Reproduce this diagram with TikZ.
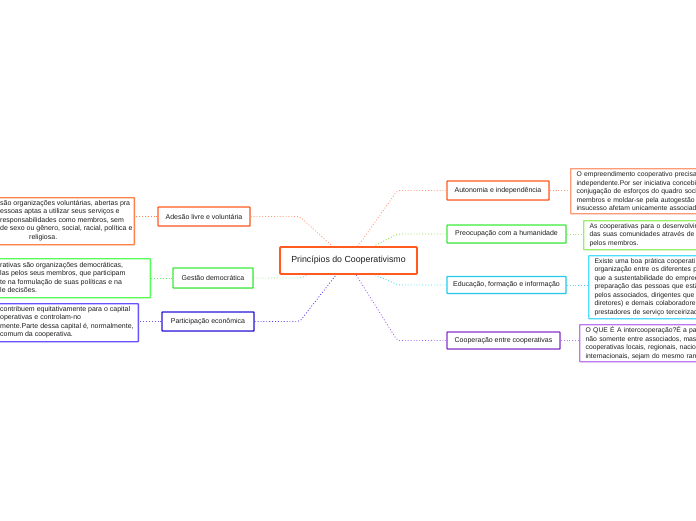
\documentclass[tikz,border=0pt]{standalone}
\usepackage{fontspec}
\setmainfont{Liberation Sans}
\usetikzlibrary{shadows,calc}
\definecolor{txt}{HTML}{1E1E1E}
\definecolor{orMain}{HTML}{FF5A1F}
\definecolor{orLight}{HTML}{FF9A74}
\definecolor{orDet}{HTML}{FF8048}
\definecolor{orConn}{HTML}{FF9A78}
\definecolor{grMain}{HTML}{3AEB3A}
\definecolor{grDet}{HTML}{55FF55}
\definecolor{grLight}{HTML}{99EE6A}
\definecolor{grConn}{HTML}{8FEE8F}
\definecolor{grConn2}{HTML}{88DD44}
\definecolor{cyMain}{HTML}{22CCEE}
\definecolor{cyDet}{HTML}{4FDDFF}
\definecolor{cyConn}{HTML}{44DDEE}
\definecolor{puMain}{HTML}{8833CC}
\definecolor{puDet}{HTML}{BB77EE}
\definecolor{puConn}{HTML}{AA66EE}
\definecolor{blMain}{HTML}{2A15DD}
\definecolor{blDet}{HTML}{6655FF}
\definecolor{blConn}{HTML}{5544EE}
\begin{document}
\begin{tikzpicture}[x=1pt,y=-1pt,
  shade/.style={drop shadow={shadow xshift=0.8pt,shadow yshift=-0.8pt,opacity=0.18}},
  cbox/.style={draw=orMain,line width=1.8pt,fill=white,rounded corners=1pt,inner sep=0pt,
    minimum width=137,minimum height=27,font=\fontsize{8.8}{10}\selectfont,text=txt,shade},
  bbox/.style={line width=1.4pt,fill=white,rounded corners=0.6pt,inner sep=0pt,
    font=\fontsize{7}{8.5}\selectfont,text=txt,shade},
  dbox/.style={line width=1.3pt,fill=white,rounded corners=0.6pt,inner ysep=0pt,inner xsep=6pt,
    text width=190pt,align=left,font=\fontsize{6.8}{8.5}\selectfont,text=txt,shade,anchor=north west},
  ebox/.style={line width=1.3pt,fill=white,rounded corners=0.6pt,inner sep=0pt,shade,anchor=north east},
  dtext/.style={inner sep=0pt,align=left,font=\fontsize{7}{8.5}\selectfont,text=txt,anchor=west},
  conn/.style={line width=0.9pt,dotted,rounded corners=2pt}]
\useasboundingbox (0,0) rectangle (696,520);
\clip (0,0) rectangle (696,520);

% central and branch nodes
\node[cbox] (c) at (348.5,260.5) {Princípios do Cooperativismo};
\node[bbox,draw=orMain,minimum width=102,minimum height=19] (aut) at (498,190.5) {Autonomia e independência};
\node[bbox,draw=grMain,minimum width=119,minimum height=18] (pre) at (506.5,234) {Preocupação com a humanidade};
\node[bbox,draw=cyMain,minimum width=119,minimum height=17] (edu) at (506.5,285) {Educação, formação e informação};
\node[bbox,draw=puMain,minimum width=113,minimum height=17] (coo) at (503.5,340.5) {Cooperação entre cooperativas};
\node[bbox,draw=orMain,minimum width=92,minimum height=19] (ade) at (204,216.5) {Adesão livre e voluntária};
\node[bbox,draw=grMain,minimum width=80,minimum height=20] (ges) at (213,278) {Gestão democrática};
\node[bbox,draw=blMain,minimum width=92,minimum height=19] (par) at (208,321.5) {Participação econômica};

% right detail boxes
\node[dbox,draw=orLight,minimum height=45] (autD) at (570,168) {O empreendimento cooperativo precisa\\independente.Por ser iniciativa concebi\\conjugação de esforços do quadro soci\\membros e moldar-se pela autogestão o\\insucesso afetam unicamente associad};
\node[dbox,draw=grLight,minimum height=29] (preD) at (583,220) {As cooperativas para o desenvolvim\\das suas comunidades através de p\\pelos membros.};
\node[dbox,draw=cyDet,minimum height=63] (eduD) at (588,255) {Existe uma boa prática cooperati\\organização entre os diferentes p\\que a sustentabilidade do empree\\preparação das pessoas que estã\\pelos associados, dirigentes que s\\diretores) e demais colaboradore\\prestadores de serviço terceirizad};
\node[dbox,draw=puDet,minimum height=37] (cooD) at (579,324) {O QUE É A intercooperação?É a parc\\não somente entre associados, mas\\cooperativas locais, regionais, nacio\\internacionais, sejam do mesmo ram};

% left detail boxes
\node[ebox,draw=orDet,minimum width=185,minimum height=47] (adeD) at (135,197) {};
\node[dtext] (adeT) at (0,220.5) {são organizações voluntárias, abertas pra\\essoas aptas a utilizar seus serviços e\\responsabilidades como membros, sem\\de sexo ou gênero, social, racial, política e\\\hspace*{29pt}religiosa.};
\node[ebox,draw=grDet,minimum width=201,minimum height=39] (gesD) at (151,258) {};
\node[dtext] (gesT) at (0,277.5) {rativas são organizações democráticas,\\las pelos seus membros, que participam\\te na formulação de suas políticas e na\\le decisões.};
\node[ebox,draw=blDet,minimum width=189,minimum height=38] (parD) at (139,303) {};
\node[dtext] (parT) at (0,322) {contribuem equitativamente para o capital\\operativas e controlam-no\\mente.Parte dessa capital é, normalmente,\\comum da cooperativa.};

% connectors center -> branches
\draw[conn,draw=orConn] (ade.east) -- ++(49,0) -- ($(c.north west)+(53,0)$);
\draw[conn,draw=grConn] (ges.east) -- ++(47,0) -- ($(c.south west)+(28,0)$);
\draw[conn,draw=blConn] (par.east) -- ++(45,0) -- ($(c.south west)+(57,0)$);
\draw[conn,draw=orConn] (aut.west) -- ++(-49,0) -- ($(c.north west)+(79,0)$);
\draw[conn,draw=grConn2] (pre.west) -- ++(-49,0) -- ($(c.north west)+(95,0)$);
\draw[conn,draw=cyConn] (edu.west) -- ++(-48,0) -- ($(c.south west)+(96,0)$);
\draw[conn,draw=puConn] (coo.west) -- ++(-49,0) -- ($(c.south west)+(77,0)$);

% connectors branches -> details
\draw[conn,draw=orDet] (ade.west) -- (ade.west -| adeD.east);
\draw[conn,draw=grDet] (ges.west) -- (ges.west -| gesD.east);
\draw[conn,draw=blDet] (par.west) -- (par.west -| parD.east);
\draw[conn,draw=orLight] (aut.east) -- (aut.east -| autD.west);
\draw[conn,draw=grLight] (pre.east) -- (pre.east -| preD.west);
\draw[conn,draw=cyDet] (edu.east) -- (edu.east -| eduD.west);
\draw[conn,draw=puDet] (coo.east) -- (coo.east -| cooD.west);
\end{tikzpicture}
\end{document}
